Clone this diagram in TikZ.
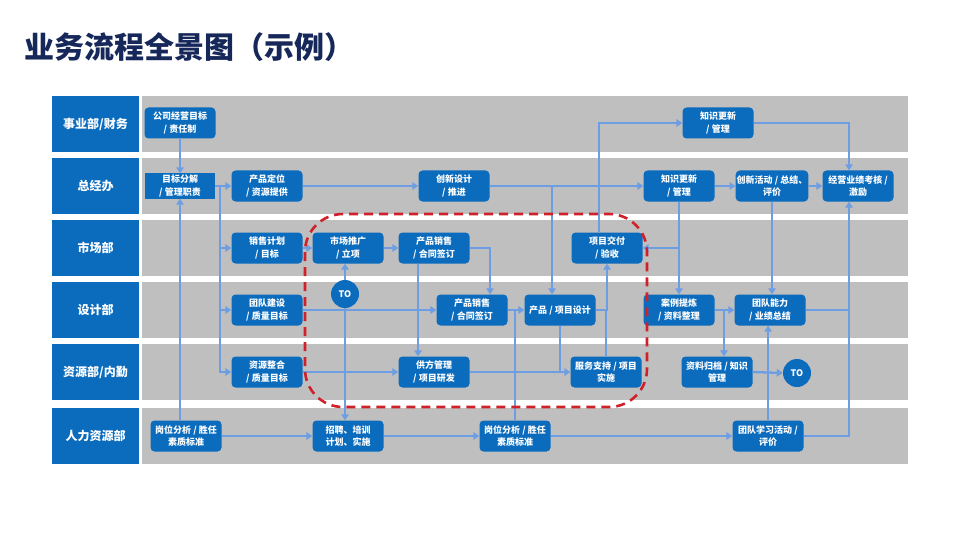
\documentclass[tikz,border=0pt]{standalone}
\usepackage{fontspec}
\setmainfont{Noto Sans CJK SC}
\usetikzlibrary{arrows.meta}
\definecolor{boxblue}{HTML}{0B6CBE}
\definecolor{lanegray}{HTML}{BFBFBF}
\definecolor{linkblue}{HTML}{6D9DE3}
\definecolor{titlenavy}{HTML}{16285A}
\definecolor{dashred}{HTML}{D0202A}
\tikzset{
  band/.style={fill=lanegray, draw=none, minimum width=766pt, minimum height=56pt, inner sep=0pt},
  lanelab/.style={fill=boxblue, draw=none, text=white, minimum width=87pt, minimum height=56pt, inner sep=0pt, font=\bfseries\fontsize{12}{14}\selectfont},
  proc/.style={fill=boxblue, draw=none, rounded corners=4pt, text=white, minimum width=71pt, minimum height=31pt, inner sep=1pt, align=center, font=\bfseries\fontsize{9}{12.5}\selectfont},
  sqproc/.style={proc, rounded corners=0pt, minimum width=70pt, minimum height=25pt},
  tocirc/.style={circle, fill=boxblue, draw=none, text=white, minimum size=28pt, inner sep=0pt, font=\bfseries\fontsize{9}{10}\selectfont},
  link/.style={draw=linkblue, line width=2.3pt},
  conn/.style={link, -{Triangle[length=6pt, width=7.5pt]}},
  redline/.style={draw=dashred, line width=2.6pt, dash pattern=on 9pt off 6pt, rounded corners=38pt},
}
\begin{document}
\begin{tikzpicture}[x=1pt, y=-1pt]
\useasboundingbox (0,0) rectangle (960,540);
\fill[white] (0,0) rectangle (960,540);

% title
\node[anchor=west, inner sep=0pt, text=titlenavy, font=\bfseries\fontsize{30}{32}\selectfont] (title) at (24,47) {业务流程全景图（示例）};

% lanes
\node[lanelab] (L1) at (95.5,124) {事业部/财务};
\node[lanelab] (L2) at (95.5,186) {总经办};
\node[lanelab] (L3) at (95.5,248) {市场部};
\node[lanelab] (L4) at (95.5,310) {设计部};
\node[lanelab] (L5) at (95.5,372) {资源部/内勤};
\node[lanelab] (L6) at (95.5,436) {人力资源部};
\node[band] (B1) at (525,124) {};
\node[band] (B2) at (525,186) {};
\node[band] (B3) at (525,248) {};
\node[band] (B4) at (525,310) {};
\node[band] (B5) at (525,372) {};
\node[band] (B6) at (525,436) {};

% row 1
\node[proc] (n1) at (180,123) {公司经营目标\\/ 责任制};
\node[proc] (n5) at (718,123) {知识更新\\/ 管理};
% row 2
\node[sqproc] (n2) at (180,186) {目标分解\\/ 管理职责};
\node[proc] (n3) at (267,186) {产品定位\\/ 资源提供};
\node[proc] (n4) at (454,186) {创新设计\\/ 推进};
\node[proc] (n6) at (679,186) {知识更新\\/ 管理};
\node[proc] (n7) at (772,186) {创新活动 / 总结、\\评价};
\node[proc] (n8) at (858,186) {经营业绩考核 /\\激励};
% row 3
\node[proc] (m1) at (267,248) {销售计划\\/ 目标};
\node[proc] (m2) at (348,248) {市场推广\\/ 立项};
\node[proc] (m3) at (434,248) {产品销售\\/ 合同签订};
\node[proc] (m4) at (607,248) {项目交付\\/ 验收};
% row 4
\node[tocirc] (to1) at (345,294) {TO};
\node[proc] (d1) at (267,310) {团队建设\\/ 质量目标};
\node[proc] (d2) at (472,310) {产品销售\\/ 合同签订};
\node[proc] (d3) at (560,310) {产品 / 项目设计};
\node[proc] (d4) at (679,310) {案例提炼\\/ 资料整理};
\node[proc] (d5) at (770,310) {团队能力\\/ 业绩总结};
% row 5
\node[proc] (r1) at (267,372) {资源整合\\/ 质量目标};
\node[proc] (r2) at (434,372) {供方管理\\/ 项目研发};
\node[proc] (r3) at (606,372) {服务支持 / 项目\\实施};
\node[proc] (r4) at (717,372) {资料归档 / 知识\\管理};
\node[tocirc] (to2) at (797,373) {TO};
% row 6
\node[proc] (h1) at (186,436) {岗位分析 / 胜任\\素质标准};
\node[proc] (h2) at (348,436) {招聘、培训\\计划、实施};
\node[proc] (h3) at (515,436) {岗位分析 / 胜任\\素质标准};
\node[proc] (h4) at (768,436) {团队学习活动 /\\评价};

% junction coordinates
\coordinate (j1) at (220,186);
\coordinate (j2) at (552,186);
\coordinate (j3) at (724,310);
\coordinate (j4) at (849,310);

% connectors
\draw[conn] (n1.south) -- (n2.north);
\draw[conn] (h1.north -| n2.south) -- (n2.south);
\draw[conn] (n2.east) -- (n3.west);
\draw[conn] (j1) |- (r1.west);
\draw[conn] (j1 |- m1.west) -- (m1.west);
\draw[conn] (j1 |- d1.west) -- (d1.west);
\draw[conn] (n3.east) -- (n4.west);
\draw[conn] (n4.east) -- (n6.west);
\draw[conn] (j2) -- (j2 |- d3.north);
\draw[conn] ([xshift=-8pt]m4.north) |- (n5.west);
\draw[conn] (n5.east) -| ([xshift=-9pt]n8.north);
\draw[conn] (n6.east) -- (n7.west);
\draw[conn] (n7.east) -- (n8.west);
\draw[conn] (n6.south) -- (d4.north);
\draw[conn] (n6.south |- m4.east) -- (m4.east);
\draw[conn] (n7.south) -- (n7.south |- d5.north);
\draw[conn] (h4.east) -| ([xshift=-9pt]n8.south);
\draw[link] (d5.east) -- (j4);
\draw[conn] (d4.east) -- (d5.west);
\draw[conn] (j3) -- (j3 |- r4.north);
\draw[conn] (h4.north) -- (h4.north |- d5.south);
\draw[conn] (r4.east) -- (to2.west);
\draw[conn] (h1.east) -- (h2.west);
\draw[conn] (h2.east) -- (h3.west);
\draw[conn] (h3.east) -- (h4.west);
\draw[conn] (d2.east) -- (d3.west);
\draw[link] (h3.north) -- (h3.north |- d3.west);
\draw[link] (d3.south) -- (d3.south |- r3.west);
\draw[conn] (r2.east) -- (r3.west);
\draw[conn] (d3.east) -| (m4.south);
\draw[link] (r3.north) -- (r3.north |- d3.east);
\draw[conn] (m3.east) -| ([xshift=18pt]d2.north);
\draw[conn] ([xshift=-16pt]m3.south) -- ([xshift=-16pt]r2.north);
\draw[conn] (m1.east) -- (m2.west);
\draw[conn] (m2.east) -- (m3.west);
\draw[conn] (to1.north) -- (to1.north |- m2.south);
\draw[conn] (to1.south) -- (to1.south |- h2.north);
\draw[conn] (d1.east) -- (d2.west);
\draw[conn] (r1.east) -- (r2.west);

% red dashed focus area
\draw[redline] (305,214) rectangle (647,407);
\end{tikzpicture}
\end{document}
